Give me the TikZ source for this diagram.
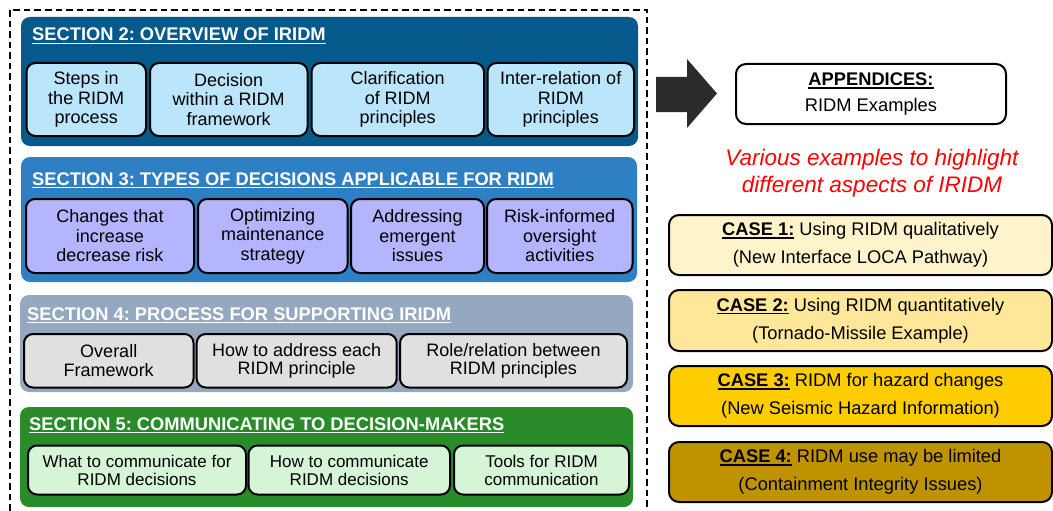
\documentclass[tikz,border=0pt]{standalone}
\usepackage{fontspec}
\setmainfont{Liberation Sans}
\frenchspacing

\definecolor{secii}{HTML}{05598B}
\definecolor{seciii}{HTML}{2E7FC3}
\definecolor{seciv}{HTML}{94A8C2}
\definecolor{secv}{HTML}{2A8B2A}
\definecolor{subii}{HTML}{BAE5FB}
\definecolor{subiii}{HTML}{B4B4FF}
\definecolor{subiv}{HTML}{E0E0E0}
\definecolor{subv}{HTML}{D6F5D6}
\definecolor{casei}{HTML}{FFF3CC}
\definecolor{caseii}{HTML}{FFE799}
\definecolor{caseiii}{HTML}{FFCC00}
\definecolor{caseiv}{HTML}{BF9300}
\definecolor{arrowgray}{HTML}{2B2B2B}

\newcommand\ulbar[1]{\leavevmode\vtop{\hbox{#1}\kern1.5pt\hrule height1.5pt}}

\begin{document}
\begin{tikzpicture}[x=1pt, y=-1pt,
  secfill/.style={rounded corners=9pt},
  sectitle/.style={anchor=base west, inner sep=0pt, text=white,
    font=\fontsize{18.3}{20}\selectfont\bfseries},
  subbox/.style={draw=black, line width=2pt, rounded corners=9pt, inner sep=0pt,
    align=center, font=\fontsize{18}{19.5}\selectfont},
  casebox/.style={draw=black, line width=2pt, rounded corners=10pt, inner sep=0pt,
    align=center, minimum width=383pt, minimum height=60pt,
    font=\fontsize{18.3}{28}\selectfont},
  ]

  \useasboundingbox (0,0) rectangle (1053,511);

  %% dashed frame round the sections
  \draw[line width=2pt, dash pattern=on 6.5pt off 4pt] (10,521) -- (10,10) -- (647,10) -- (647,521);

  %% SECTION 2
  \fill[secii, secfill] (21,17) rectangle (638,146);
  \node[sectitle] (s2title) at (32,41) {\ulbar{SECTION 2: OVERVIEW OF IRIDM}};
  \node[subbox, fill=subii, minimum width=119.5pt, minimum height=73pt] (s2a) at (86.25,99.5) {Steps in\\the RIDM\\process};
  \node[subbox, fill=subii, minimum width=157.5pt, minimum height=73pt] (s2b) at (228.75,99.5) {Decision\\within a RIDM\\framework};
  \node[subbox, fill=subii, minimum width=172.5pt, minimum height=73pt] (s2c) at (397.75,99.5) {Clarification\\of RIDM\\principles};
  \node[subbox, fill=subii, minimum width=146.5pt, minimum height=73pt] (s2d) at (560.75,99.5) {Inter-relation of\\RIDM\\principles};

  %% SECTION 3
  \fill[seciii, secfill] (21,157) rectangle (637,282);
  \node[sectitle] (s3title) at (32,185) {\ulbar{SECTION 3: TYPES OF DECISIONS APPLICABLE FOR RIDM}};
  \node[subbox, fill=subiii, minimum width=168pt, minimum height=74pt] (s3a) at (110,236) {Changes that\\increase\\decrease risk};
  \node[subbox, fill=subiii, minimum width=149.5pt, minimum height=74pt] (s3b) at (272.75,236) {Optimizing\\maintenance\\strategy};
  \node[subbox, fill=subiii, minimum width=133pt, minimum height=74pt] (s3c) at (417.5,236) {Addressing\\emergent\\issues};
  \node[subbox, fill=subiii, minimum width=145.5pt, minimum height=74pt] (s3d) at (559.75,236) {Risk-informed\\oversight\\activities};

  %% SECTION 4
  \fill[seciv, secfill] (20,295) rectangle (633,392);
  \node[sectitle] (s4title) at (27,320) {\ulbar{SECTION 4: PROCESS FOR SUPPORTING IRIDM}};
  \node[subbox, fill=subiv, minimum width=169.5pt, minimum height=53.5pt, font=\fontsize{18}{18.5}\selectfont] (s4a) at (108.75,360.75) {Overall\\Framework};
  \node[subbox, fill=subiv, minimum width=200pt, minimum height=53.5pt, font=\fontsize{18}{18.5}\selectfont] (s4b) at (296.7,360.75) {How to address each\\RIDM principle};
  \node[subbox, fill=subiv, minimum width=227pt, minimum height=53.5pt, font=\fontsize{18}{18.5}\selectfont] (s4c) at (513.5,360.75) {Role/relation between\\RIDM principles};

  %% SECTION 5
  \fill[secv, secfill] (20,407) rectangle (633,507);
  \node[sectitle] (s5title) at (29,430) {\ulbar{SECTION 5: COMMUNICATING TO DECISION-MAKERS}};
  \node[subbox, fill=subv, minimum width=218pt, minimum height=49pt, font=\fontsize{17}{18}\selectfont] (s5a) at (137,470) {What to communicate for\\RIDM decisions};
  \node[subbox, fill=subv, minimum width=201.5pt, minimum height=49pt, font=\fontsize{17}{18}\selectfont] (s5b) at (349.25,470) {How to communicate\\RIDM decisions};
  \node[subbox, fill=subv, minimum width=175pt, minimum height=49pt, font=\fontsize{17}{18}\selectfont] (s5c) at (541.5,470) {Tools for RIDM\\communication};

  %% big arrow to the appendices
  \fill[arrowgray] (656,77) -- (687,77) -- (687,59) -- (717,93.5) -- (687,128) -- (687,112) -- (656,112) -- cycle;

  \node[draw=black, line width=2pt, rounded corners=10pt, fill=white, inner sep=0pt, align=center,
    minimum width=270pt, minimum height=60pt, font=\fontsize{18.3}{26}\selectfont] (app) at (871,94)
    {\ulbar{\bfseries APPENDICES:}\\RIDM Examples};
  \node[align=center, text=red, inner sep=0pt, font=\fontsize{22.5}{27}\selectfont\itshape] (note) at (872,173)
    {Various examples to highlight\\different aspects of IRIDM};

  %% CASES
  \node[casebox, fill=casei] (case1) at (860.5,245) {\ulbar{\bfseries CASE 1:} Using RIDM qualitatively\\(New Interface LOCA Pathway)};
  \node[casebox, fill=caseii, minimum height=61pt] (case2) at (860.5,320.5) {\ulbar{\bfseries CASE 2:} Using RIDM quantitatively\\(Tornado-Missile Example)};
  \node[casebox, fill=caseiii] (case3) at (860.5,396) {\ulbar{\bfseries CASE 3:} RIDM for hazard changes\\(New Seismic Hazard Information)};
  \node[casebox, fill=caseiv] (case4) at (860.5,472) {\ulbar{\bfseries CASE 4:} RIDM use may be limited\\(Containment Integrity Issues)};

\end{tikzpicture}
\end{document}
